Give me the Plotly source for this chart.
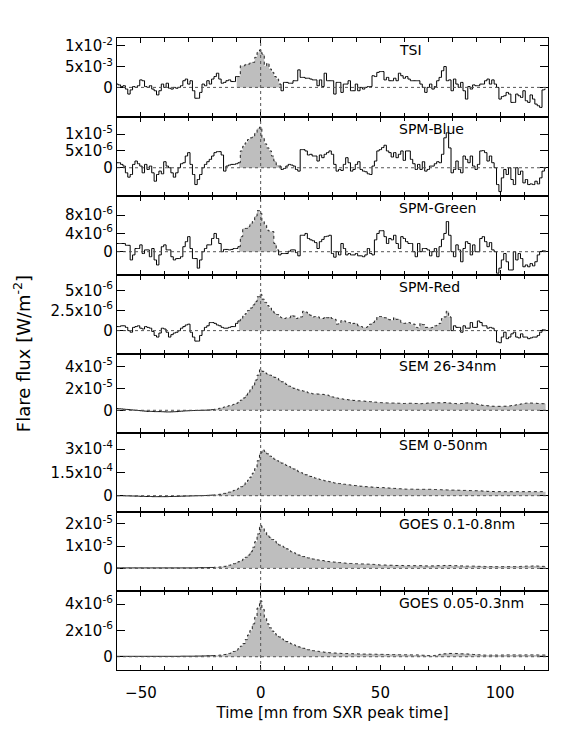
import numpy as np
import plotly.graph_objects as go
from plotly.subplots import make_subplots

# time axis, minutes from SXR peak, 1-minute bins
time_mn = list(range(-60, 120))

# TSI, units of 1e-3 W/m2
tsi = [0.8, 0.6, 0.2, 0.4, -0.4, -1.6, -0.6, 0.2, 0.0, 0.4,
       1.8, 1.6, 0.2, 0.0, 0.4, -0.4, -0.8, -1.8, -0.8, 0.8,
       0.0, 1.0, -0.2, -0.4, 0.0, -0.2, 0.0, 0.4, 1.6, 2.0,
       0.8, 1.6, -0.8, -2.6, -2.6, -1.2, 0.8, 0.4, 1.6, 0.8,
       2.0, 2.6, 3.4, 2.0, 1.0, 1.2, 1.6, 1.8, 1.4, 1.4,
       2.6, 2.6, 5.2, 5.2, 5.6, 5.6, 6.0, 6.0, 7.2, 8.4,
       9.0, 8.0, 5.2, 5.8, 4.4, 3.6, 2.6, 2.0, 0.8, -0.8,
       1.2, 1.2, 1.0, 1.0, 1.6, 1.6, 4.2, 2.4, 2.4, 2.2,
       2.2, 2.0, 1.8, 1.8, 0.4, 1.8, 0.2, 3.4, 1.6, 1.6,
       1.6, -1.6, 1.2, 1.2, -1.2, 0.8, 0.8, 1.6, -0.8, -0.8,
       0.8, -0.8, 0.0, -0.4, 0.0, 0.2, 0.2, 2.8, 2.6, 3.6,
       3.8, 3.8, 1.8, 2.4, 1.6, 1.6, 2.2, 1.6, 3.4, 2.8,
       2.2, 2.6, 2.0, 1.6, 1.6, 1.6, 1.6, 0.8, 0.0, -1.2,
       0.0, 0.8, -0.4, 0.2, 1.6, 2.4, 4.0, 5.0, 1.6, 1.8,
       -0.8, 2.0, 0.8, 0.0, 1.2, -0.8, -2.8, 0.2, -0.4, 0.6,
       0.4, 0.4, 0.8, 0.8, 1.6, 2.0, 0.8, 1.8, 0.8, 0.0,
       -2.8, -2.2, -2.0, -1.2, -1.6, -3.6, -3.6, -1.6, -2.0, -2.4,
       -0.8, -3.2, -3.6, -1.8, -2.8, -4.0, -4.4, -4.8, -0.6, -0.4]

# SPM channels, units of 1e-6 W/m2
spm_blue = [1.5, 1.5, 1.0, 0.5, -1.5, -2.8, -2.0, 1.0, 2.0, 1.2,
            0.5, -1.5, 1.0, -0.5, 0.5, -1.5, -4.0, -2.0, -1.0, -1.8,
            1.8, 0.5, 0.0, -1.5, -2.8, -1.5, 0.0, 1.2, 1.5, 3.5,
            4.5, 1.0, -2.0, -5.0, -3.5, -2.0, 0.0, 1.0, 1.8, 2.5,
            3.5, 4.5, 4.8, 4.8, 3.8, -1.0, 0.5, 0.8, 1.0, 1.0,
            1.2, 1.5, 5.0, 6.4, 7.4, 8.4, 8.9, 9.4, 10.4, 11.7,
            12.1, 8.9, 7.1, 5.9, 5.0, 3.5, 2.0, 0.8, 0.5, -0.5,
            -0.2, 0.5, 1.0, 0.8, 0.5, -0.5, -1.0, 5.4, 5.4, 5.0,
            3.8, 4.0, 3.5, 3.5, 2.0, 3.8, 3.0, 4.0, 4.5, 5.0,
            4.0, 1.0, -1.0, -0.5, -0.8, 1.0, 3.0, 1.5, -1.0, -0.5,
            1.0, 1.8, -0.5, -1.0, -1.2, -1.8, -2.0, 0.5, 2.0, 5.0,
            5.4, 6.0, 6.7, 5.0, 4.5, 3.2, 4.5, 3.0, 4.0, 5.0,
            2.2, 5.0, 5.0, 2.5, 1.2, -0.5, 1.0, -0.5, 1.8, -1.0,
            -0.5, 0.5, 0.5, 1.2, 1.8, 1.5, 4.0, 8.9, 10.4, 5.9,
            -1.5, -0.5, 2.0, -0.5, -1.5, 3.5, 2.5, 1.5, 3.5, 0.5,
            -0.5, 1.0, 5.0, 5.1, 4.5, 2.0, 3.5, 1.5, 0.0, -5.0,
            -7.1, -3.0, -0.5, -2.0, 0.0, -3.5, -5.0, 0.0, -2.0, -1.0,
            -4.5, -3.5, -5.0, -4.8, -5.0, -4.0, -4.8, -3.0, -1.0, -0.2]

spm_green = [1.8, 1.8, 1.8, 1.8, 1.4, 1.4, -1.8, -0.7, 0.7, 0.7,
             1.5, -0.4, 0.4, 0.4, -1.1, 0.7, -1.8, -2.9, -0.7, 1.1,
             1.5, 0.4, 0.4, -1.1, -1.8, -1.5, -1.5, -1.1, 1.1, 2.2,
             3.3, 0.7, -1.5, -1.5, -3.6, -1.8, 0.0, 0.7, 1.5, 1.5,
             2.9, 4.0, 2.9, 1.8, 0.0, 0.5, 0.5, 0.4, 0.5, 0.7,
             0.7, 1.1, 3.3, 5.1, 5.1, 5.5, 6.2, 6.6, 7.8, 9.0,
             8.4, 6.6, 5.8, 4.7, 4.4, 4.4, 1.8, 0.4, -0.7, -0.4,
             -0.4, -0.4, 0.1, 0.4, 0.4, -0.2, -0.9, 3.6, 3.6, 4.0,
             2.9, 2.6, 2.4, 2.0, 0.7, 2.2, 2.7, 3.3, 3.4, 3.6,
             -0.4, -1.2, 0.0, -0.7, 1.8, 0.7, -0.7, -0.4, -0.7, -0.7,
             -0.4, -0.9, -0.9, -1.1, -0.7, 0.7, -0.4, -0.7, 2.6, 4.0,
             4.6, 4.6, 3.3, 1.8, 2.9, 2.6, 3.6, 1.8, 0.7, 3.3,
             2.9, 2.2, 1.8, 1.8, 0.0, -1.1, 1.8, 0.0, 0.7, 0.7,
             0.4, -0.9, 0.0, 0.7, -1.1, 1.1, 2.7, 4.0, 6.6, 3.6,
             0.0, -1.1, 1.5, 0.4, -2.2, 0.7, 2.2, 1.8, -0.7, 1.5,
             0.0, 0.0, 2.9, 3.3, 2.2, 1.1, 2.0, 0.4, 0.0, -4.7,
             -3.6, -1.8, -0.4, -2.2, -4.0, -4.0, 0.0, -1.8, -0.4, -1.5,
             -3.3, -2.9, -3.3, -2.6, -3.1, -2.2, -0.7, 0.0, 0.2, 0.2]

spm_red = [0.5, 0.5, 0.6, 0.6, 0.4, 0.0, -0.2, 0.4, 0.5, 0.6,
           0.3, 0.2, 0.5, 0.4, 0.3, -0.1, -0.6, -0.8, -0.3, 0.3,
           0.2, -0.2, -0.8, -0.5, -0.3, -0.2, 0.0, 0.3, 0.5, 0.7,
           0.8, -0.2, -0.8, -1.3, -1.3, -0.6, 0.0, 0.4, 0.6, 1.0,
           1.0, 0.9, 0.7, 0.6, 0.4, 0.3, 0.3, 0.4, 0.5, 0.5,
           0.9, 1.2, 1.5, 1.8, 2.1, 2.5, 2.8, 3.2, 3.6, 4.2,
           4.5, 3.9, 3.5, 3.1, 2.8, 2.5, 2.2, 2.0, 1.7, 1.6,
           1.5, 1.6, 1.6, 1.9, 1.8, 1.5, 1.6, 1.7, 2.4, 2.3,
           2.1, 1.9, 1.7, 1.75, 1.7, 1.5, 1.5, 1.7, 1.6, 1.7,
           1.5, 1.4, 0.8, 0.9, 1.25, 1.2, 1.0, 1.0, 0.8, 0.9,
           0.9, 0.6, 0.5, 0.4, 0.4, 0.5, 0.8, 1.0, 1.3, 1.7,
           1.75, 1.7, 1.6, 1.5, 1.35, 1.3, 1.6, 1.4, 1.4, 1.0,
           0.9, 0.95, 1.0, 0.8, 0.8, 0.4, 0.35, 0.9, 0.75, 0.4,
           0.4, 0.35, 0.4, 0.6, 0.7, 0.9, 1.5, 1.7, 2.4, 1.7,
           0.0, 0.6, 0.4, 0.4, -0.2, 0.6, 0.3, 0.3, 1.0, 0.4,
           0.4, 1.2, 1.0, 0.6, 0.6, 0.3, 0.4, 0.3, 0.0, -1.4,
           -1.5, -0.8, -0.2, -1.0, -0.8, -0.4, -0.2, -0.8, -0.9, -0.4,
           -0.8, -0.8, -1.0, -0.9, -0.8, -0.8, -0.6, -0.2, 0.1, 0.1]

# SEM 26-34 nm, units of 1e-5 W/m2
sem_26_34 = [0.15, 0.14, 0.12, 0.10, 0.08, 0.06, 0.04, 0.02, 0.00, -0.02,
             -0.04, -0.06, -0.08, -0.10, -0.10, -0.10, -0.12, -0.12, -0.12, -0.13,
             -0.14, -0.15, -0.15, -0.14, -0.13, -0.12, -0.10, -0.08, -0.06, -0.05,
             -0.04, -0.03, -0.02, -0.02, -0.01, 0.00, 0.00, 0.01, 0.02, 0.03,
             0.06, 0.09, 0.13, 0.18, 0.24, 0.30, 0.36, 0.42, 0.48, 0.54,
             0.64, 0.75, 0.92, 1.12, 1.38, 1.65, 1.95, 2.30, 2.75, 3.20,
             3.70, 3.55, 3.40, 3.30, 3.20, 3.10, 3.00, 2.90, 2.75, 2.60,
             2.50, 2.35, 2.20, 2.10, 2.00, 1.95, 1.85, 1.80, 1.75, 1.70,
             1.60, 1.55, 1.50, 1.50, 1.48, 1.46, 1.45, 1.42, 1.38, 1.30,
             1.22, 1.18, 1.12, 1.08, 1.04, 1.00, 0.97, 0.95, 0.93, 0.90,
             0.88, 0.86, 0.85, 0.84, 0.82, 0.80, 0.78, 0.76, 0.74, 0.72,
             0.70, 0.69, 0.68, 0.67, 0.66, 0.66, 0.66, 0.65, 0.64, 0.62,
             0.62, 0.63, 0.64, 0.64, 0.63, 0.62, 0.61, 0.60, 0.62, 0.64,
             0.66, 0.68, 0.69, 0.69, 0.68, 0.68, 0.69, 0.70, 0.69, 0.66,
             0.63, 0.62, 0.60, 0.60, 0.62, 0.65, 0.67, 0.68, 0.66, 0.62,
             0.58, 0.53, 0.48, 0.45, 0.43, 0.41, 0.39, 0.37, 0.36, 0.36,
             0.36, 0.36, 0.37, 0.38, 0.40, 0.43, 0.46, 0.50, 0.54, 0.58,
             0.62, 0.65, 0.67, 0.66, 0.65, 0.64, 0.62, 0.61, 0.60, 0.60]

# SEM 0-50 nm, units of 1e-4 W/m2
sem_0_50 = [0.00, 0.00, 0.00, 0.00, -0.01, -0.01, -0.02, -0.02, -0.03, -0.03,
            -0.04, -0.04, -0.05, -0.05, -0.05, -0.06, -0.06, -0.06, -0.06, -0.06,
            -0.06, -0.06, -0.05, -0.05, -0.05, -0.04, -0.04, -0.03, -0.03, -0.02,
            -0.02, -0.01, -0.01, 0.00, 0.00, 0.00, 0.01, 0.01, 0.02, 0.03,
            0.04, 0.05, 0.07, 0.09, 0.12, 0.15, 0.19, 0.23, 0.28, 0.34,
            0.40, 0.48, 0.58, 0.70, 0.84, 1.00, 1.20, 1.45, 1.75, 2.25,
            2.75, 2.95, 2.85, 2.70, 2.55, 2.45, 2.35, 2.25, 2.20, 2.10,
            2.02, 1.95, 1.87, 1.80, 1.72, 1.65, 1.55, 1.48, 1.42, 1.35,
            1.29, 1.24, 1.18, 1.13, 1.09, 1.04, 1.00, 0.96, 0.93, 0.90,
            0.86, 0.82, 0.80, 0.78, 0.76, 0.74, 0.72, 0.70, 0.68, 0.66,
            0.65, 0.63, 0.61, 0.59, 0.58, 0.57, 0.56, 0.55, 0.54, 0.53,
            0.52, 0.52, 0.51, 0.50, 0.49, 0.48, 0.47, 0.46, 0.45, 0.44,
            0.43, 0.42, 0.42, 0.42, 0.42, 0.41, 0.41, 0.41, 0.41, 0.41,
            0.41, 0.41, 0.40, 0.40, 0.39, 0.39, 0.38, 0.38, 0.37, 0.37,
            0.36, 0.36, 0.36, 0.35, 0.35, 0.34, 0.34, 0.33, 0.33, 0.32,
            0.32, 0.32, 0.31, 0.30, 0.29, 0.28, 0.27, 0.27, 0.26, 0.26,
            0.26, 0.26, 0.26, 0.26, 0.26, 0.26, 0.26, 0.26, 0.26, 0.26,
            0.26, 0.26, 0.26, 0.26, 0.26, 0.26, 0.26, 0.26, 0.26, 0.26]

# GOES 0.1-0.8 nm, units of 1e-5 W/m2
goes_long = [0.02, 0.02, 0.02, 0.02, 0.02, 0.02, 0.02, 0.02, 0.02, 0.02,
             0.02, 0.02, 0.02, 0.02, 0.02, 0.02, 0.02, 0.02, 0.02, 0.02,
             0.02, 0.02, 0.02, 0.02, 0.02, 0.02, 0.02, 0.02, 0.02, 0.02,
             0.02, 0.02, 0.02, 0.02, 0.03, 0.03, 0.03, 0.03, 0.03, 0.04,
             0.04, 0.05, 0.05, 0.06, 0.07, 0.09, 0.11, 0.14, 0.17, 0.21,
             0.26, 0.30, 0.35, 0.42, 0.50, 0.60, 0.75, 0.95, 1.20, 1.55,
             1.92, 1.80, 1.62, 1.50, 1.40, 1.30, 1.22, 1.14, 1.05, 1.00,
             0.95, 0.88, 0.80, 0.75, 0.70, 0.66, 0.60, 0.56, 0.53, 0.50,
             0.47, 0.44, 0.42, 0.40, 0.38, 0.36, 0.35, 0.33, 0.31, 0.30,
             0.29, 0.28, 0.27, 0.26, 0.25, 0.24, 0.23, 0.22, 0.22, 0.21,
             0.21, 0.20, 0.20, 0.20, 0.19, 0.19, 0.18, 0.18, 0.17, 0.16,
             0.15, 0.15, 0.15, 0.14, 0.14, 0.14, 0.13, 0.13, 0.13, 0.13,
             0.12, 0.12, 0.12, 0.12, 0.12, 0.12, 0.12, 0.12, 0.12, 0.11,
             0.11, 0.11, 0.11, 0.12, 0.12, 0.12, 0.12, 0.13, 0.13, 0.13,
             0.12, 0.12, 0.12, 0.11, 0.11, 0.11, 0.10, 0.10, 0.10, 0.10,
             0.09, 0.09, 0.09, 0.09, 0.08, 0.08, 0.08, 0.08, 0.08, 0.075,
             0.075, 0.08, 0.08, 0.08, 0.08, 0.08, 0.08, 0.08, 0.08, 0.09,
             0.09, 0.10, 0.10, 0.10, 0.11, 0.11, 0.10, 0.09, 0.09, 0.08]

# GOES 0.05-0.3 nm, units of 1e-6 W/m2
goes_short = [0.03, 0.03, 0.03, 0.03, 0.03, 0.03, 0.03, 0.03, 0.03, 0.03,
              0.03, 0.03, 0.03, 0.03, 0.03, 0.03, 0.03, 0.03, 0.03, 0.03,
              0.03, 0.03, 0.03, 0.03, 0.03, 0.03, 0.03, 0.04, 0.04, 0.04,
              0.04, 0.04, 0.04, 0.05, 0.05, 0.05, 0.06, 0.06, 0.07, 0.07,
              0.08, 0.09, 0.10, 0.12, 0.14, 0.17, 0.20, 0.25, 0.32, 0.40,
              0.50, 0.62, 0.80, 1.00, 1.30, 1.65, 2.00, 2.50, 3.00, 3.70,
              4.25, 3.60, 2.90, 2.50, 2.20, 1.95, 1.75, 1.60, 1.50, 1.35,
              1.25, 1.15, 1.05, 0.98, 0.90, 0.83, 0.75, 0.70, 0.64, 0.58,
              0.53, 0.49, 0.46, 0.43, 0.41, 0.38, 0.36, 0.34, 0.32, 0.30,
              0.29, 0.28, 0.27, 0.26, 0.25, 0.24, 0.24, 0.23, 0.23, 0.22,
              0.22, 0.21, 0.21, 0.20, 0.20, 0.20, 0.19, 0.19, 0.19, 0.18,
              0.18, 0.18, 0.17, 0.17, 0.17, 0.16, 0.16, 0.16, 0.15, 0.15,
              0.15, 0.15, 0.15, 0.14, 0.14, 0.14, 0.13, 0.12, 0.11, 0.10,
              0.09, 0.08, 0.08, 0.10, 0.14, 0.18, 0.20, 0.22, 0.24, 0.25,
              0.25, 0.25, 0.24, 0.23, 0.22, 0.22, 0.21, 0.20, 0.19, 0.17,
              0.16, 0.15, 0.14, 0.13, 0.12, 0.12, 0.12, 0.13, 0.13, 0.12,
              0.12, 0.13, 0.13, 0.14, 0.14, 0.14, 0.14, 0.14, 0.13, 0.13,
              0.13, 0.14, 0.14, 0.14, 0.14, 0.14, 0.13, 0.13, 0.13, 0.13]

panel_names = ["TSI", "SPM-Blue", "SPM-Green", "SPM-Red",
               "SEM 26-34nm", "SEM 0-50nm", "GOES 0.1-0.8nm", "GOES 0.05-0.3nm"]
series = [tsi, spm_blue, spm_green, spm_red, sem_26_34, sem_0_50, goes_long, goes_short]
units = [1e-3, 1e-6, 1e-6, 1e-6, 1e-5, 1e-4, 1e-5, 1e-6]
# flare interval that is shaded grey (minutes)
flare_start = [-10, -9, -9, -9, -20, -20, -20, -20]
flare_end = [8, 8, 7, 79, 119, 119, 119, 119]

y_ranges = [[-7.1e-3, 11.85e-3], [-8.4e-6, 15.1e-6], [-5.1e-6, 12.2e-6], [-2.9e-6, 6.9e-6],
            [-2.07e-5, 5.13e-5], [-1.05e-4, 4.04e-4], [-1.02e-5, 2.54e-5], [-1.01e-6, 5.0e-6]]
tick_vals = [[0, 5e-3, 1e-2], [0, 5e-6, 1e-5], [0, 4e-6, 8e-6], [0, 2.5e-6, 5e-6],
             [0, 2e-5, 4e-5], [0, 1.5e-4, 3e-4], [0, 1e-5, 2e-5], [0, 2e-6, 4e-6]]
tick_text = [["0", "5x10<sup>-3</sup>", "1x10<sup>-2</sup>"],
             ["0", "5x10<sup>-6</sup>", "1x10<sup>-5</sup>"],
             ["0", "4x10<sup>-6</sup>", "8x10<sup>-6</sup>"],
             ["0", "2.5x10<sup>-6</sup>", "5x10<sup>-6</sup>"],
             ["0", "2x10<sup>-5</sup>", "4x10<sup>-5</sup>"],
             ["0", "1.5x10<sup>-4</sup>", "3x10<sup>-4</sup>"],
             ["0", "1x10<sup>-5</sup>", "2x10<sup>-5</sup>"],
             ["0", "2x10<sup>-6</sup>", "4x10<sup>-6</sup>"]]

FONT = "DejaVu Sans"
GREY = "#bebebe"
DOTS = "#555555"

fig = make_subplots(rows=8, cols=1, shared_xaxes=True, vertical_spacing=0)

t = np.array(time_mn)
for i in range(8):
    row = i + 1
    y = np.array(series[i]) * units[i]
    a, b = flare_start[i], flare_end[i]
    pre = t <= a
    mid = (t >= a) & (t <= b)
    post = t >= b

    fig.add_trace(go.Scatter(x=t[mid], y=y[mid], mode="lines", fill="tozeroy",
                             fillcolor=GREY,
                             line=dict(shape="hvh", color="#222", width=1, dash="dot")),
                  row=row, col=1)
    fig.add_trace(go.Scatter(x=t[pre], y=y[pre], mode="lines",
                             line=dict(shape="hvh", color="black", width=1)),
                  row=row, col=1)
    if post.sum() > 1:
        fig.add_trace(go.Scatter(x=t[post], y=y[post], mode="lines",
                                 line=dict(shape="hvh", color="black", width=1)),
                      row=row, col=1)

    # zero level
    yref = "y" if row == 1 else f"y{row}"
    xref = "x" if row == 1 else f"x{row}"
    fig.add_shape(type="line", xref=xref, yref=yref, x0=-60, x1=120, y0=0, y1=0,
                  line=dict(color=DOTS, width=1, dash="dot"), layer="above")

    fig.update_yaxes(range=y_ranges[i], tickvals=tick_vals[i], ticktext=tick_text[i],
                     ticks="inside", ticklen=8, tickcolor="black",
                     showline=True, linecolor="black", linewidth=1.2, mirror="ticks",
                     showgrid=False, zeroline=False,
                     tickfont=dict(family=FONT, size=15, color="black"),
                     row=row, col=1)

    fig.add_annotation(text=panel_names[i], xref="paper", yref=f"{yref} domain",
                       x=0.65, y=1, xanchor="left", yanchor="middle", yshift=-12,
                       showarrow=False, font=dict(family=FONT, size=14, color="black"))

fig.update_xaxes(range=[-60, 120], tick0=0, dtick=50, ticks="inside", ticklen=5,
                 tickcolor="black",
                 minor=dict(ticks="inside", ticklen=4, dtick=10, tick0=0, tickcolor="black"),
                 showline=True, linecolor="black", linewidth=1.2, mirror="ticks",
                 showgrid=False, zeroline=False,
                 tickfont=dict(family=FONT, size=15, color="black"))
fig.update_xaxes(title=dict(text="Time [mn from SXR peak time]", standoff=6,
                            font=dict(family=FONT, size=15, color="black")),
                 ticklabelstandoff=9, row=8, col=1)

# vertical dotted line at the SXR peak
fig.add_shape(type="line", xref="x", yref="paper", x0=0, x1=0, y0=0, y1=1,
              line=dict(color=DOTS, width=1, dash="dot"), layer="above")

fig.add_annotation(text="Flare flux [W/m<sup>-2</sup>]", xref="paper", yref="paper",
                   x=-0.22, y=0.5, xanchor="center", yanchor="middle",
                   textangle=-90, showarrow=False,
                   font=dict(family=FONT, size=18, color="black"))

# page body has an 8px margin, so the figure is a bit smaller than the window
fig.update_layout(width=573, height=744, showlegend=False,
                  margin=dict(l=109, r=33, t=30, b=82),
                  paper_bgcolor="white", plot_bgcolor="white",
                  font=dict(family=FONT, color="black"))

fig.write_html("out.html")
